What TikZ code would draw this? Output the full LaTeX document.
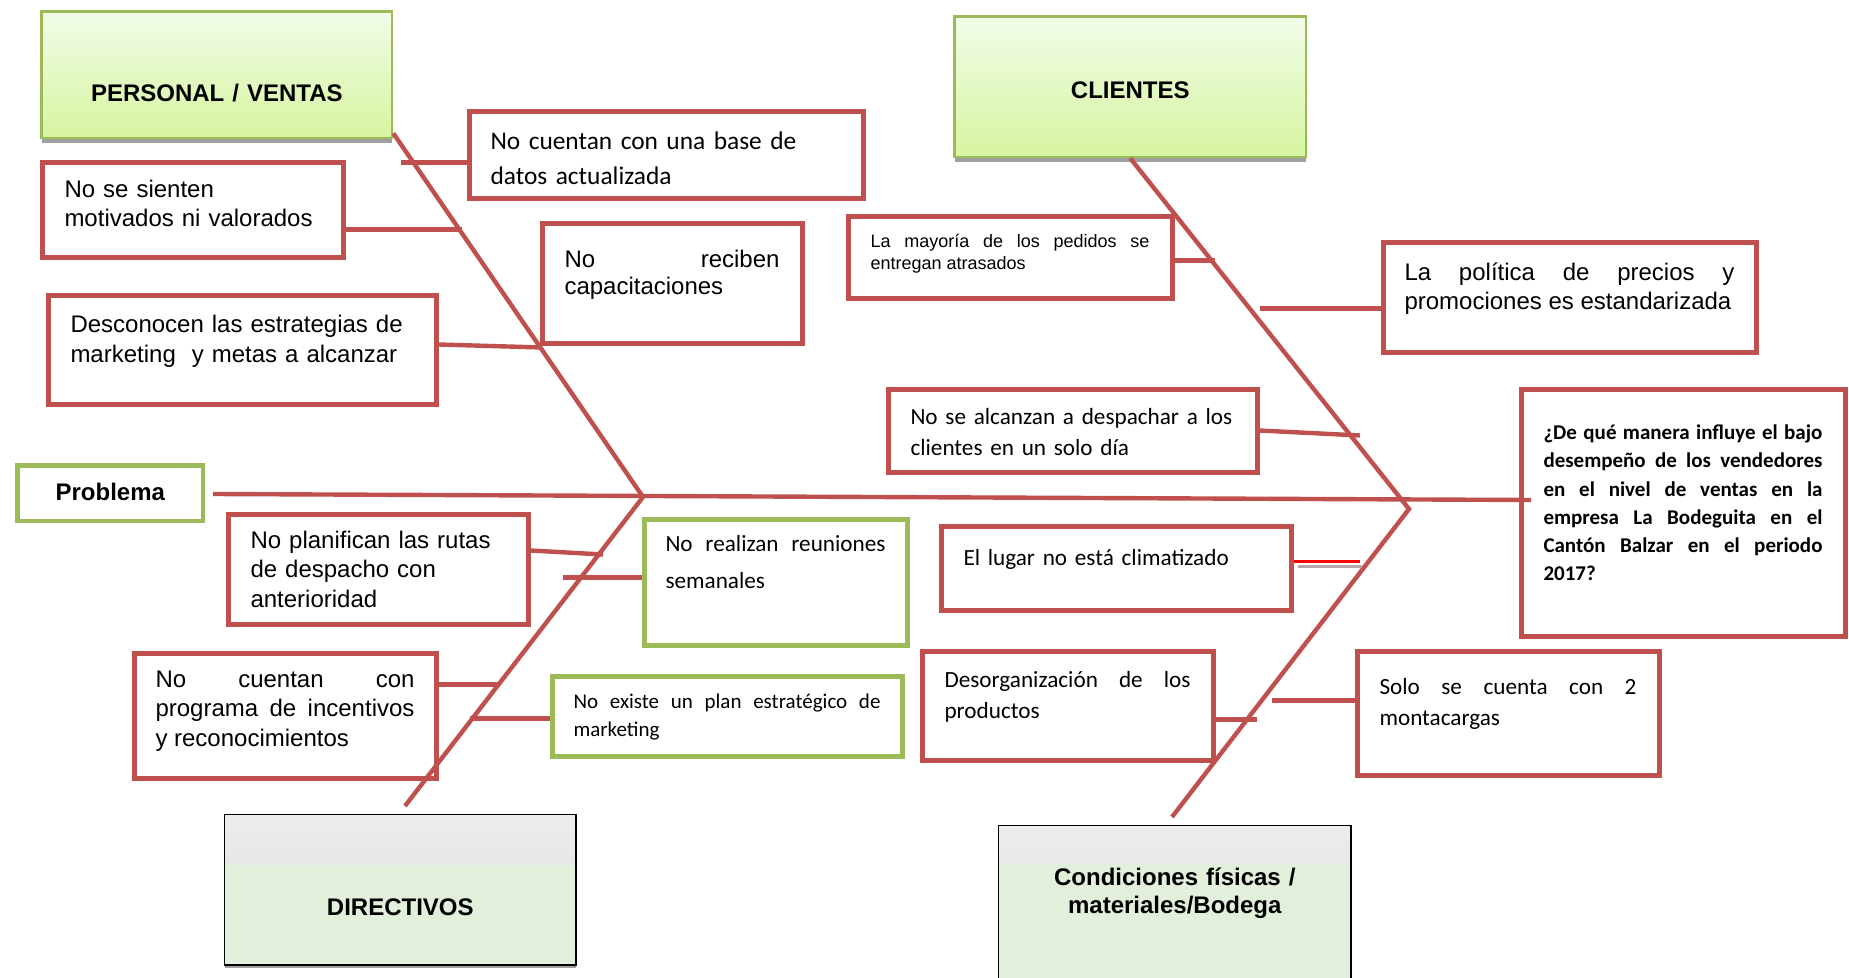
\documentclass[tikz,border=0pt]{standalone}
\usepackage{fontspec}
\setmainfont{Liberation Sans}
\newfontfamily\calibri{Carlito}
\usetikzlibrary{shadows}

\definecolor{rojo}{HTML}{C0504D}
\definecolor{verde}{HTML}{9BBB59}
\definecolor{verdeA}{RGB}{242,252,232}
\definecolor{verdeB}{RGB}{214,245,160}
\definecolor{verdeclaro}{RGB}{226,239,218}
\definecolor{grisA}{RGB}{237,237,237}
\definecolor{grisB}{RGB}{218,218,218}
\definecolor{sombra}{RGB}{160,160,160}
\definecolor{grisrosa}{RGB}{184,168,168}
\definecolor{rojovivo}{RGB}{255,0,0}

\tolerance=10000
\hyphenpenalty=10000

\tikzset{
    causa/.style = {draw=rojo, line width=2.5pt, fill=white, anchor=north west, inner ysep=0pt},
    causav/.style = {causa, draw=verde},
    arial/.style = {font=\fontsize{12}{#1}\selectfont},
    calibri/.style = {font=\calibri\fontsize{11.6}{#1}\selectfont},
    categoria/.style = {draw=verde, line width=1.3pt, anchor=north west, inner sep=0pt, align=center, top color=verdeA, bottom color=verdeB, drop shadow={shadow xshift=0pt, shadow yshift=-2.5pt, fill=sombra, opacity=1}, font=\bfseries\fontsize{12}{14}\selectfont},
    efecto/.style = {draw=black, line width=0.8pt, anchor=north west, inner sep=0pt, align=center, fill=verdeclaro, font=\bfseries\fontsize{12}{14}\selectfont, path picture={\shade[top color=grisA, bottom color=grisB] (path picture bounding box.north west) rectangle ([yshift=-#1]path picture bounding box.north east);}},
    problemabox/.style = {draw=verde, line width=2.3pt, fill=white, anchor=north west, inner sep=0pt, align=center, font=\bfseries\fontsize{12}{14}\selectfont},
    espina/.style = {draw=rojo, line width=2.2pt},
    rama/.style = {draw=rojo, line width=2.2pt}
}

\begin{document}
\begin{tikzpicture}[x=1pt,y=-1pt]
    \useasboundingbox (0,0) rectangle (924.5,489);
    \clip (0,0) rectangle (924.5,489);

    % Categorias
    \node[categoria, text width=175.2pt, text height=44.85pt, text depth=18.35pt] (personal) at (20.15,5.15) {PERSONAL / VENTAS};
    \node[categoria, text width=175.7pt, text height=40.85pt, text depth=29.35pt] (clientes) at (476.65,7.65) {CLIENTES};
    \node[efecto=25pt, drop shadow={shadow xshift=0pt, shadow yshift=-1.5pt, fill=sombra, opacity=1}, text width=175.7pt, text height=50.6pt, text depth=24.6pt] (directivos) at (111.9,406.9) {DIRECTIVOS};
    \node[efecto=19pt, text width=176.2pt, text height=30.1pt, text depth=50.5pt] (condiciones) at (498.9,412.4) {Condiciones físicas /\\materiales/Bodega};

    % Problema y efecto
    \node[problemabox, text width=92.7pt, text height=17.35pt, text depth=10.35pt] (problema) at (7.65,231.65) {Problema};
    \node[causa, font=\calibri\bfseries\fontsize{10.5}{14.15}\selectfont, align=justify, text width=139.5pt, inner xsep=11.25pt, text height=24.75pt, text depth=98.75pt] (pregunta) at (759.25,193.75) {¿De qué manera influye el bajo\linebreak desempeño de los vendedores\linebreak en el nivel de ventas en la\linebreak empresa La Bodeguita en el\linebreak Cantón Balzar en el periodo\linebreak 2017?};

    % Causas - personal / ventas
    \node[causa, font=\calibri\fontsize{12.7}{17.5}\selectfont, align=left, text width=175.5pt, inner xsep=10.75pt, text height=18.75pt, text depth=24.75pt] (basedatos) at (233.25,54.75) {No cuentan con una base de\\datos actualizada};
    \node[causa, arial=14.5, align=left, text width=128pt, inner xsep=11.25pt, text height=17.25pt, text depth=30.25pt] (motivados) at (19.75,80.25) {No se sienten\\motivados ni valorados};
    \node[causa, arial=13.5, align=justify, text width=107.5pt, inner xsep=11.25pt, text height=21.75pt, text depth=38.25pt] (capacitacion) at (269.75,110.75) {No reciben\linebreak capacitaciones};
    \node[causa, arial=15, align=left, text width=171.5pt, inner xsep=11.25pt, text height=18.25pt, text depth=36.25pt] (estrategias) at (22.75,146.75) {Desconocen las estrategias de\\marketing\ \ y metas a alcanzar};

    % Causas - clientes
    \node[causa, font=\fontsize{9}{11}\selectfont, align=justify, text width=139.5pt, inner xsep=11.25pt, text height=15.25pt, text depth=25.75pt] (pedidos) at (422.75,107.25) {La mayoría de los pedidos se\linebreak entregan atrasados};
    \node[causa, arial=14.5, align=justify, text width=165pt, inner xsep=10.75pt, text height=18.75pt, text depth=36.25pt] (politica) at (690.25,120.25) {La política de precios y\linebreak promociones es estandarizada};
    \node[causa, calibri=15.5, align=left, text width=162pt, inner xsep=11.25pt, text height=17.25pt, text depth=24.25pt] (despacho) at (442.75,193.75) {No se alcanzan a despachar a los\\clientes en un solo día};

    % Causas - directivos
    \node[causa, arial=14.75, align=left, text width=127.5pt, inner xsep=11.25pt, text height=16.75pt, text depth=38.25pt] (rutas) at (112.75,256.25) {No planifican las rutas\\de despacho con\\anterioridad};
    \node[causav, calibri=18.5, align=justify, text width=110pt, inner xsep=10.75pt, text height=15.75pt, text depth=47.25pt] (reuniones) at (320.75,258.75) {No realizan reuniones\linebreak semanales};
    \node[causa, arial=14.75, align=justify, text width=129.5pt, inner xsep=10.75pt, text height=16.75pt, text depth=45.25pt] (incentivos) at (65.75,325.75) {No cuentan con\linebreak programa de incentivos\linebreak y reconocimientos};
    \node[causav, font=\calibri\fontsize{10.5}{14}\selectfont, align=justify, text width=153.5pt, inner xsep=10.75pt, text height=15.75pt, text depth=23.75pt] (plan) at (274.75,337.25) {No existe un plan estratégico de\linebreak marketing};

    % Causas - condiciones fisicas
    \node[causa, calibri=15.5, align=left, text width=152.5pt, inner xsep=11.25pt, text height=19.25pt, text depth=22.75pt] (clima) at (469.25,262.25) {El lugar no está climatizado};
    \node[causa, calibri=15.5, align=justify, text width=123pt, inner xsep=11.25pt, text height=17.75pt, text depth=36.25pt] (desorden) at (459.75,324.75) {Desorganización de los\linebreak productos};
    \node[causa, calibri=15.5, align=justify, text width=128.5pt, inner xsep=11.25pt, text height=21.25pt, text depth=40.25pt] (montacargas) at (677.25,324.75) {Solo se cuenta con 2\linebreak montacargas};

    % Espinas
    \coordinate (inicioEje) at (106.5,247);
    \coordinate (finEje) at (765.5,250);
    \coordinate (cabezaI) at (321.5,248.5);
    \coordinate (cabezaD) at (704.5,254.5);
    \coordinate (pieI) at (202.5,403);
    \coordinate (pieD) at (586,408.5);
    \draw[espina] (inicioEje) -- (finEje);
    \draw[espina] ([yshift=3pt]personal.south east) -- (cabezaI) -- (pieI);
    \draw[espina] (clientes.south) -- (cabezaD) -- (pieD);

    % Ramas
    \draw[rama] ([yshift=-3.5pt]basedatos.west) -- ++(-32.75,0);
    \draw[rama] ([yshift=-9.5pt]motivados.east) -- ++(58.25,0);
    \draw[rama] ([yshift=3pt]estrategias.east) -- ++(51.75,1.5);
    \draw[rama] ([yshift=-1.25pt]pedidos.east) -- ++(20.25,0);
    \draw[rama] ([yshift=-5.25pt]politica.west) -- ++(-60.25,0);
    \draw[rama] ([yshift=0.5pt]despacho.east) -- ++(50.25,2.5);
    \draw[rama] ([yshift=9.75pt]rutas.east) -- ++(36.25,2);
    \draw[rama] ([yshift=2.75pt]reuniones.west) -- ++(-39.25,0);
    \draw[rama] ([yshift=15.75pt]incentivos.east) -- ++(29.75,0);
    \draw[rama] ([yshift=-1pt]plan.west) -- ++(-39.75,0);
    \draw[draw=rojovivo, line width=1.5pt] ([yshift=3.75pt]clima.east) -- ++(33.25,0);
    \draw[draw=grisrosa, line width=1.5pt] ([xshift=2.25pt,yshift=1.25pt]clima.east) -- ++(32,0);
    \draw[rama] ([yshift=-6.75pt]desorden.east) -- ++(20.75,0);
    \draw[rama] ([yshift=6.5pt]montacargas.west) -- ++(-41.25,0);
\end{tikzpicture}
\end{document}
